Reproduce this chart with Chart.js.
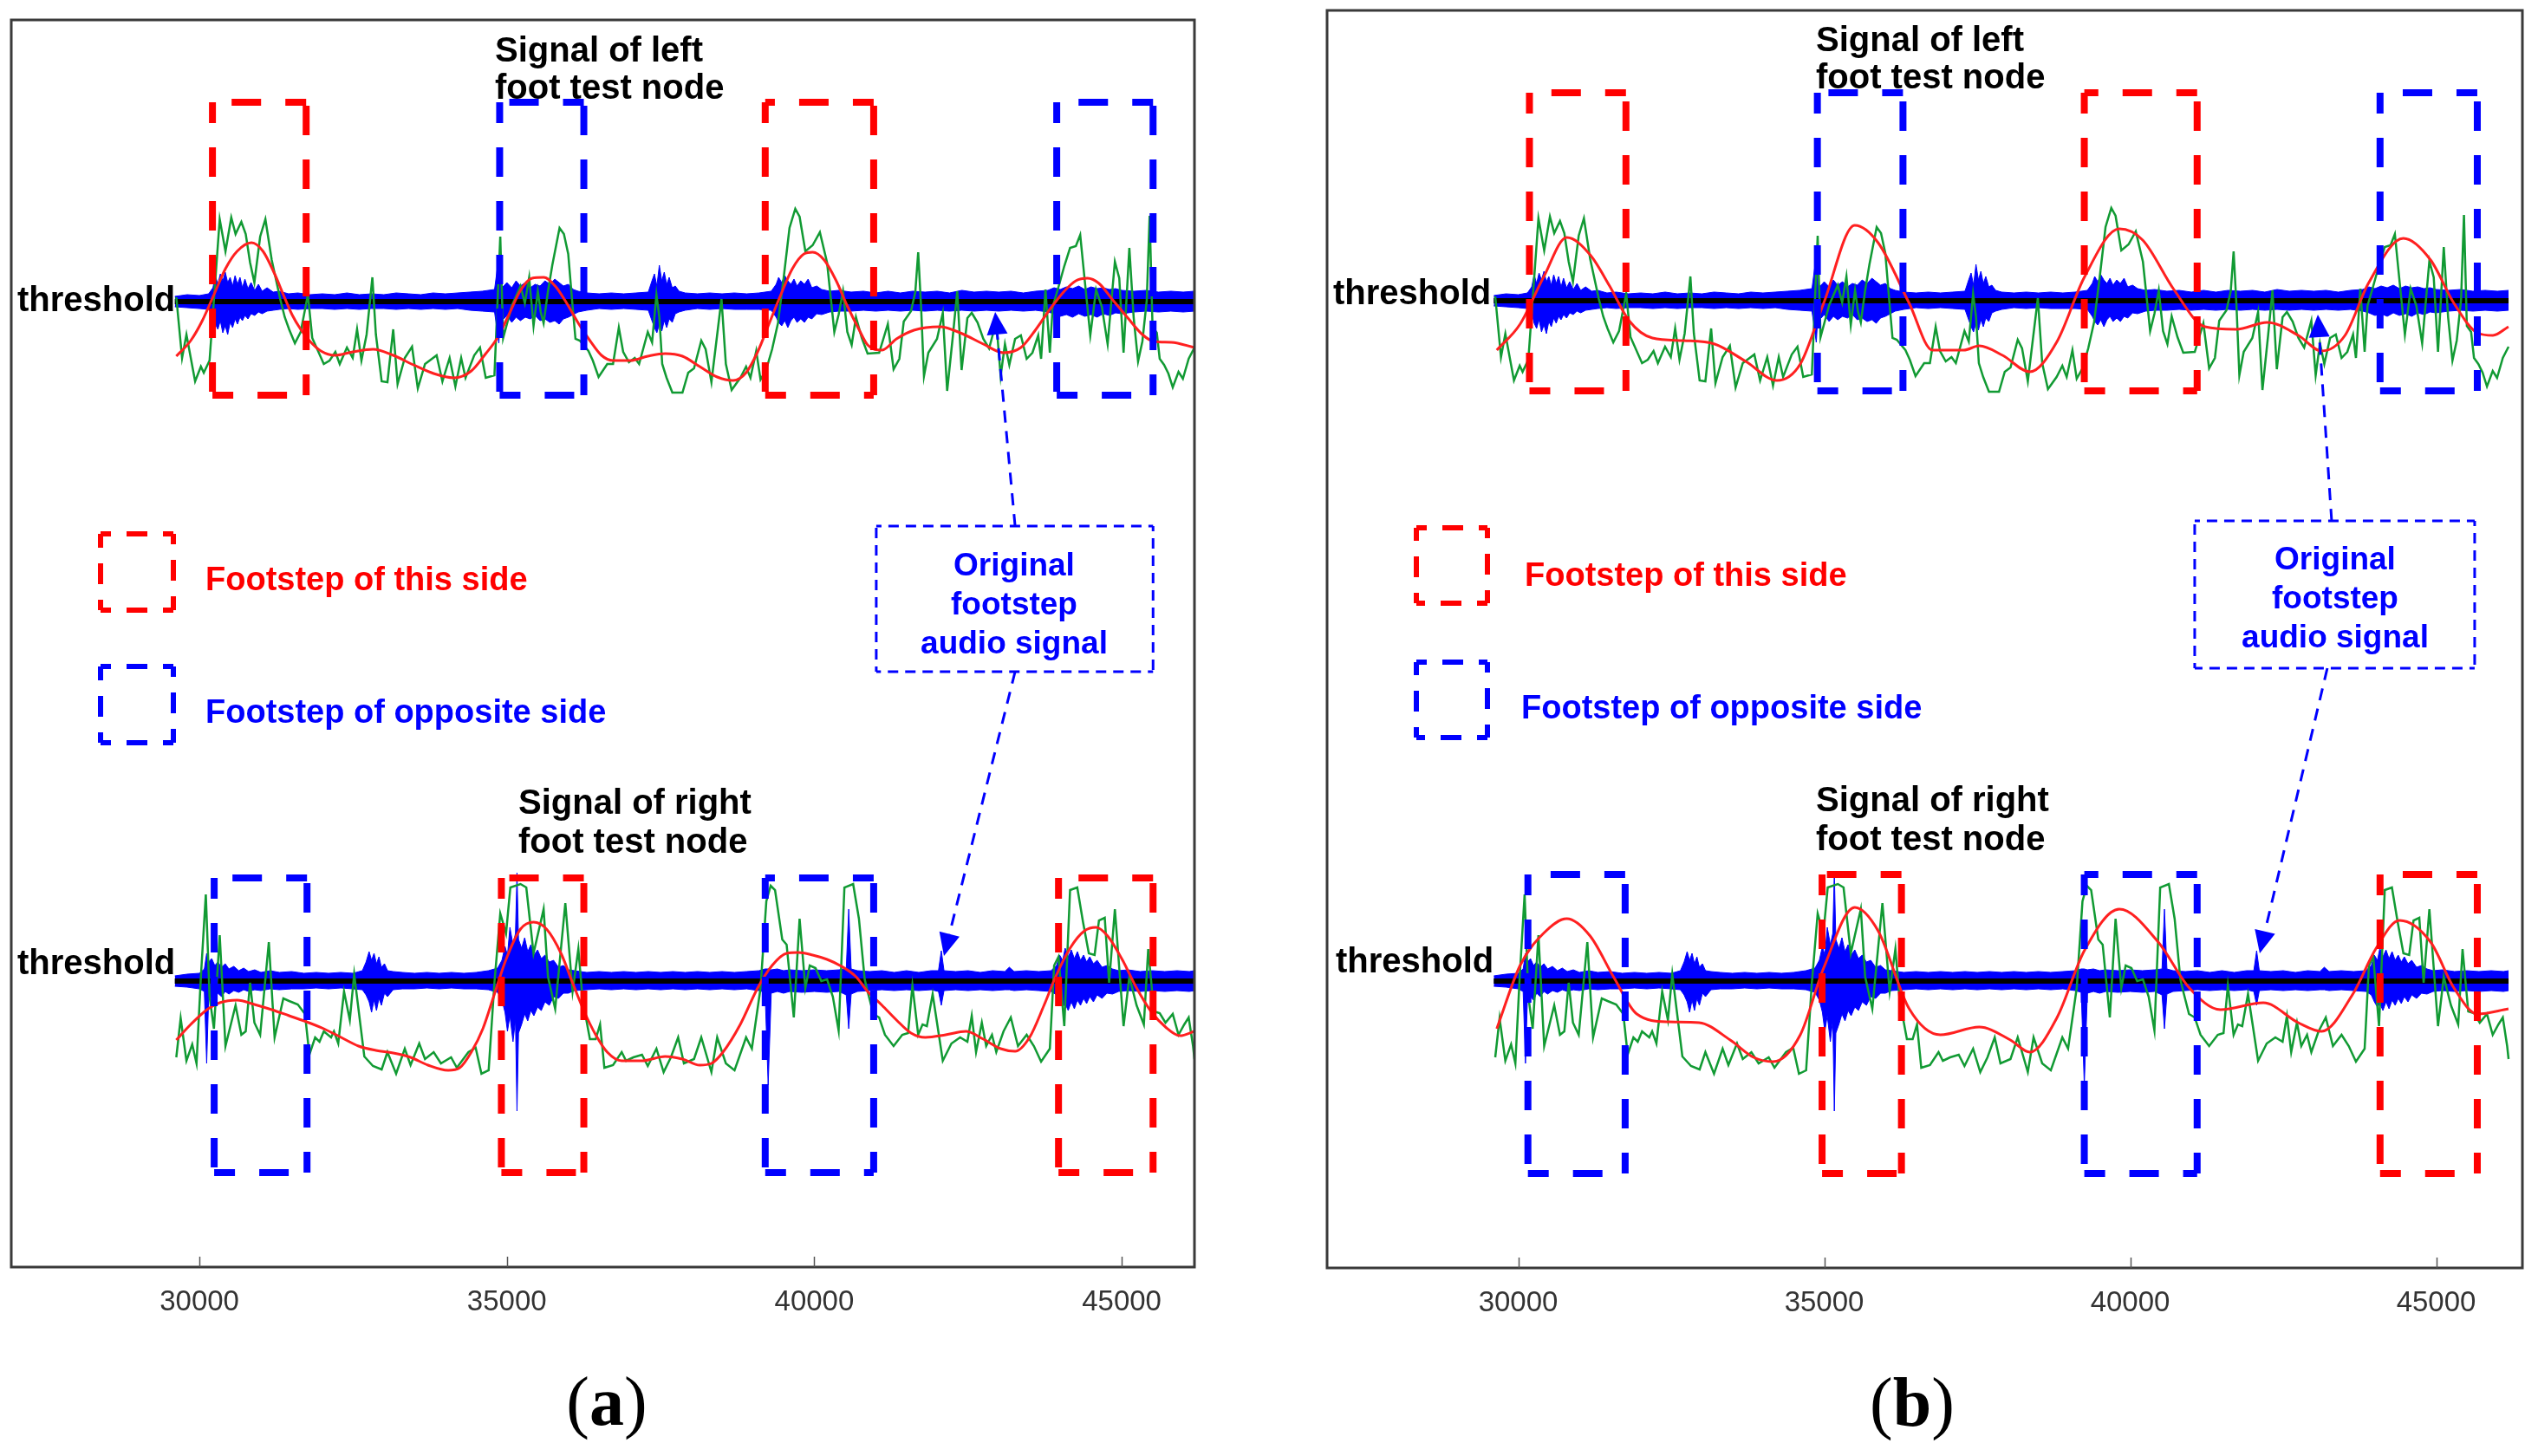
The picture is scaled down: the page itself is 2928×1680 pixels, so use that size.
<!DOCTYPE html>
<html><head><meta charset="utf-8">
<script src="https://cdn.jsdelivr.net/npm/chart.js@4.4.1/dist/chart.umd.min.js"></script>
<style>
html,body{margin:0;padding:0;background:#fff;}
#wrap{position:relative;width:2928px;height:1680px;overflow:hidden;background:#fff;}
canvas{position:absolute;top:0;}
.t{position:absolute;font-family:"Liberation Sans",Arial,sans-serif;font-weight:bold;white-space:nowrap;line-height:1;}
.cap{position:absolute;font-family:"Liberation Serif","Times New Roman",serif;white-space:nowrap;line-height:1;color:#000;}
</style></head><body>
<div id="wrap">
<canvas id="cA" width="1464" height="1680" style="left:0;width:1464px;height:1680px"></canvas>
<canvas id="cB" width="1464" height="1680" style="left:1464px;width:1464px;height:1680px"></canvas>
</div>
<script>
// ---------------- DATA ----------------
const xTicks = [30000, 35000, 40000, 45000];
const thresholdSpan = [29600, 46183];

// green (pressure-like) signal of the left-foot node: [x, amplitude]
const greenTop = [[29624,5],[29718,-65],[29789,-38],[29930,-92],[30024,-75],[30071,-82],[30165,-68],[30330,95],[30424,58],[30518,97],[30588,78],[30682,92],[30753,78],[30824,45],[30894,22],[30988,75],[31073,95],[31176,48],[31317,2],[31388,-18],[31459,-32],[31553,-48],[31647,-35],[31764,8],[31835,-42],[32023,-72],[32117,-68],[32211,-58],[32282,-72],[32399,-53],[32493,-65],[32564,-32],[32635,-68],[32719,-38],[32813,28],[32870,-38],[32964,-92],[33058,-93],[33152,-32],[33223,-95],[33340,-65],[33458,-52],[33552,-100],[33669,-72],[33858,-62],[33952,-92],[34069,-65],[34163,-98],[34257,-65],[34328,-88],[34469,-62],[34563,-53],[34657,-88],[34798,-85],[34893,75],[34940,-42],[35081,-5],
[35222,18],[35293,-2],[35363,28],[35434,-28],[35504,12],[35551,-12],[35598,-25],[35669,12],[35739,42],[35857,85],[35928,78],[35998,55],[36069,-5],[36116,-43],[36186,-45],[36327,-57],[36398,-68],[36492,-87],[36633,-72],[36727,-72],[36821,-30],[36892,-58],[36986,-70],[37080,-65],[37151,-72],[37292,-35],[37362,-47],[37433,8],[37480,-18],[37527,-72],[37598,-88],[37692,-105],[37856,-105],[37950,-82],[38044,-77],[38162,-45],[38233,-55],[38327,-93],[38491,3],[38562,-72],[38656,-102],[38797,-88],[38891,-75],[38962,-88],[39056,-57],[39126,-90],[39220,-78],[39314,-55],[39409,-25],[39503,28],[39597,85],[39691,107],[39761,98],[39855,58],[39973,65],[40091,80],[40208,45],[40326,-35],[40396,-15],[40467,12],[40537,-35],[40608,-50],[40678,-18],[40773,-42],
[40867,-60],[41055,-59],[41196,-26],[41290,-78],[41384,-66],[41455,-23],[41573,-11],[41643,11],[41690,57],[41737,-6],[41784,-86],[41855,-59],[41996,-43],[42090,-13],[42161,-103],[42255,-39],[42325,12],[42396,-79],[42490,-19],[42561,-13],[42655,-24],[42749,-43],[42843,-54],[42960,-23],[43031,-86],[43101,-49],[43172,-73],[43266,-43],[43360,-39],[43454,-66],[43548,-59],[43642,-39],[43689,-66],[43760,14],[43831,-59],[43878,-6],[43972,17],[44066,41],[44160,62],[44254,64],[44325,77],[44395,27],[44489,-39],[44583,14],[44677,-6],[44771,-49],[44889,46],[44960,27],[45030,-59],[45124,62],[45195,-19],[45266,-69],[45336,-46],[45407,1],[45454,99],[45501,-29],[45571,-36],[45618,-66],[45689,-73],[45759,-83],[45830,-99],[45924,-81],[45995,-89],[46089,-66],[46183,-53]];

// green signal of the right-foot node
const greenBot = [[29624,-88],[29695,-43],[29789,-92],[29883,-73],[29953,-95],[30024,5],[30104,100],[30165,-18],[30236,-55],[30330,53],[30424,-75],[30518,-48],[30588,-28],[30682,-62],[30753,-58],[30824,-2],[30894,-48],[30988,-62],[31129,45],[31223,-65],[31365,-20],[31459,-23],[31600,-27],[31717,-38],[31788,-85],[31882,-65],[31953,-70],[32023,-58],[32141,-65],[32188,-58],[32258,-72],[32352,-12],[32446,-45],[32517,8],[32682,-87],[32823,-98],[32964,-102],[33058,-82],[33199,-107],[33340,-78],[33434,-97],[33575,-72],[33669,-90],[33810,-82],[33928,-95],[34093,-88],[34187,-100],[34375,-82],[34493,-77],[34587,-107],[34704,-103],[34798,-2],[34893,78],[34987,55],[35057,108],
[35222,112],[35316,108],[35434,32],[35598,83],[35669,5],[35786,-32],[35951,90],[36069,-12],[36163,37],[36233,-22],[36351,-67],[36445,-67],[36516,-50],[36586,-100],[36727,-97],[36868,-82],[36939,-92],[37057,-88],[37198,-85],[37292,-98],[37433,-78],[37550,-105],[37668,-88],[37786,-65],[37880,-95],[38044,-90],[38162,-65],[38327,-105],[38421,-65],[38562,-95],[38703,-103],[38891,-65],[38985,-78],[39126,-8],[39220,92],[39291,110],[39362,105],[39479,48],[39550,42],[39667,-42],[39761,72],[39855,-8],[39926,18],[40020,15],[40114,0],[40208,2],[40302,-18],[40396,-57],[40490,108],[40632,112],[40726,72],[40820,2],
[40867,-12],[40961,-38],[41055,-42],[41149,-62],[41290,-75],[41431,-62],[41525,-60],[41596,-5],[41690,-62],[41761,-50],[41831,-52],[41925,-15],[41996,-48],[42090,-92],[42231,-72],[42372,-65],[42490,-70],[42561,-40],[42631,-82],[42725,-48],[42796,-75],[42890,-62],[42960,-82],[43078,-58],[43196,-42],[43313,-75],[43454,-62],[43572,-75],[43689,-93],[43831,-78],[43901,18],[43972,28],[44066,-52],[44160,105],[44277,108],[44371,68],[44465,32],[44559,30],[44630,70],[44724,73],[44795,-2],[44889,83],[45030,-52],[45124,5],[45242,-28],[45360,-50],[45431,37],[45524,-35],[45618,-37],[45712,-48],[45830,-38],[45924,-62],[46018,-50],[46089,-42],[46160,-75],[46183,-90]];

// smoothed (red) curves, panel (a)
const redTopA = [[29624,-63],[29859,-45],[30047,-22],[30236,8],[30424,38],[30612,58],[30847,68],[31035,58],[31223,32],[31365,8],[31506,-15],[31647,-32],[31788,-45],[31976,-57],[32211,-62],[32493,-58],[32823,-55],[33152,-62],[33481,-73],[33810,-83],[34140,-88],[34422,-80],[34657,-60],[34845,-42],[35034,-15],[35222,13],[35410,27],[35598,28],[35786,18],[35975,-2],[36163,-25],[36351,-45],[36539,-62],[36727,-68],[37010,-68],[37292,-63],[37574,-60],[37856,-63],[38138,-75],[38421,-87],[38679,-91],[38891,-82],[39079,-58],[39268,-25],[39456,8],[39644,38],[39832,55],[39973,57],[40161,48],[40350,25],[40537,-5],[40726,-32],[40867,-50],[41102,-56],[41337,-43],[41620,-33],[42043,-29],[42372,-36],[42749,-49],[43078,-59],[43360,-53],[43595,-33],[43831,-9],[44066,12],[44254,24],[44442,27],[44630,21],[44865,1],[45101,-19],[45336,-38],[45524,-46],[45806,-47],[46183,-53]];
const redBotA = [[29624,-68],[29859,-50],[30141,-32],[30330,-25],[30612,-22],[30894,-27],[31176,-33],[31459,-40],[31741,-47],[32023,-55],[32305,-65],[32588,-75],[32870,-80],[33152,-83],[33434,-88],[33717,-97],[34046,-103],[34234,-100],[34422,-82],[34610,-55],[34798,-15],[34987,25],[35222,60],[35434,68],[35645,60],[35881,32],[36069,-2],[36257,-35],[36445,-62],[36633,-82],[36868,-92],[37198,-92],[37574,-87],[37856,-90],[38138,-97],[38327,-95],[38515,-82],[38797,-50],[39079,-8],[39314,18],[39550,32],[39738,33],[39973,30],[40208,25],[40443,17],[40679,5],[40867,-12],[41102,-28],[41337,-45],[41573,-60],[41808,-65],[42137,-62],[42466,-58],[42749,-67],[43031,-78],[43266,-81],[43501,-65],[43736,-28],[43925,5],[44160,38],[44395,58],[44583,62],[44771,52],[45007,25],[45242,-8],[45477,-35],[45712,-53],[45947,-63],[46183,-58]];

// smoothed (red) curves, panel (b)
const redTopB = [[29649,-57],[30030,-27],[30412,27],[30793,73],[31175,53],[31493,17],[31811,-23],[32192,-43],[32701,-46],[33210,-50],[33718,-70],[34227,-92],[34609,-73],[34990,-3],[35499,87],[35880,67],[36389,-3],[36770,-57],[37279,-57],[37533,-52],[37915,-63],[38360,-82],[38805,-47],[39250,27],[39822,83],[40204,70],[40713,13],[41221,-30],[41730,-33],[42239,-25],[42747,-40],[43129,-58],[43510,-40],[43892,20],[44464,72],[44909,47],[45291,-3],[45673,-37],[45927,-40],[46181,-30]];
const redBotB = [[29649,-55],[30030,18],[30412,55],[30793,72],[31175,52],[31556,5],[31938,-38],[32447,-47],[32955,-48],[33464,-68],[33846,-88],[34163,-93],[34609,-62],[34990,15],[35499,85],[35880,58],[36389,-32],[36898,-62],[37533,-53],[38042,-68],[38360,-82],[38805,-42],[39250,35],[39822,83],[40458,45],[40967,-8],[41476,-33],[42175,-25],[42747,-48],[43129,-58],[43638,-15],[44020,38],[44401,70],[44909,45],[45291,-8],[45673,-38],[46181,-32]];

// audio signal envelope [x, upper, lower]
const audioTop = [[29600,6,-6],[29800,8,-7],[30000,7,-8],[30150,9,-9],[30220,16,-14],[30260,30,-26],[30300,20,-32],[30340,32,-22],[30380,24,-36],[30420,34,-28],[30460,22,-38],[30500,28,-24],[30540,18,-30],[30580,30,-20],[30620,20,-26],[30660,28,-18],[30700,16,-22],[30740,26,-16],[30790,15,-20],[30840,22,-14],[30900,13,-16],[30960,20,-12],[31020,12,-14],[31100,16,-11],[31200,11,-10],[31300,12,-9],[31450,9,-8],[31600,10,-9],[31800,8,-8],[32000,9,-8],[32200,8,-9],[32400,10,-8],[32600,8,-9],[32800,9,-8],[33000,8,-8],[33200,10,-9],[33400,9,-8],[33600,8,-9],[33800,10,-8],[34000,9,-9],[34200,10,-8],[34400,11,-10],[34600,12,-11],[34800,14,-12],[34870,52,-48],[34900,16,-14],[34950,18,-20],[35000,22,-16],[35080,16,-24],[35150,24,-18],[35220,18,-22],[35300,22,-18],[35380,16,-20],[35460,20,-16],[35540,18,-22],[35620,24,-20],[35700,20,-24],[35780,26,-22],[35850,22,-26],[35920,18,-20],[36000,20,-18],[36080,14,-15],[36160,12,-12],[36300,10,-10],[36500,9,-8],[36700,10,-9],[36900,9,-8],[37100,10,-9],[37300,11,-10],[37360,24,-22],[37400,32,-30],[37440,18,-36],[37480,42,-26],[37520,24,-34],[37560,34,-22],[37600,20,-30],[37640,28,-20],[37690,16,-24],[37740,18,-14],[37800,12,-12],[37900,10,-10],[38100,9,-8],[38300,10,-9],[38500,9,-8],[38700,10,-9],[38900,9,-9],[39100,10,-9],[39300,12,-10],[39380,20,-18],[39420,28,-24],[39470,22,-28],[39520,30,-22],[39570,24,-30],[39620,20,-22],[39670,26,-18],[39720,18,-24],[39780,24,-20],[39840,20,-24],[39900,26,-18],[39960,16,-20],[40040,18,-14],[40120,14,-15],[40250,12,-12],[40400,13,-11],[40600,11,-11],[40800,12,-10],[41000,10,-11],[41200,12,-10],[41400,10,-11],[41600,12,-10],[41800,11,-11],[42000,12,-10],[42200,10,-11],[42400,13,-10],[42600,11,-11],[42800,12,-10],[43000,11,-11],[43200,12,-10],[43400,10,-11],[43600,12,-10],[43800,13,-12],[43900,16,-14],[44000,14,-17],[44100,17,-15],[44200,15,-18],[44300,18,-14],[44400,14,-17],[44500,17,-15],[44600,15,-18],[44700,16,-14],[44800,14,-16],[44900,15,-13],[45000,13,-14],[45200,12,-12],[45400,13,-11],[45600,11,-12],[45800,12,-11],[46000,11,-12],[46183,12,-11]];
const audioBot = [[29600,6,-6],[29800,8,-7],[30000,9,-9],[30080,14,-12],[30118,32,-95],[30150,22,-20],[30200,26,-18],[30250,18,-22],[30300,22,-14],[30360,16,-18],[30420,20,-12],[30480,14,-15],[30560,17,-11],[30640,12,-13],[30720,15,-10],[30800,11,-12],[30900,13,-10],[31000,10,-11],[31150,12,-9],[31300,10,-10],[31500,11,-9],[31700,9,-9],[31900,10,-8],[32100,9,-9],[32300,10,-8],[32500,9,-9],[32650,12,-10],[32710,22,-16],[32760,34,-24],[32800,24,-36],[32840,32,-22],[32880,20,-34],[32920,28,-20],[32960,16,-28],[33010,20,-14],[33060,12,-18],[33150,11,-10],[33300,10,-9],[33500,9,-9],[33700,10,-8],[33900,9,-9],[34100,10,-8],[34300,9,-9],[34500,10,-9],[34700,12,-10],[34850,15,-13],[34920,24,-22],[34970,40,-36],[35010,30,-58],[35050,62,-40],[35100,42,-70],[35140,55,-45],[35165,125,-150],[35190,48,-60],[35240,38,-50],[35290,50,-38],[35340,34,-46],[35390,42,-34],[35440,30,-40],[35500,36,-30],[35560,26,-34],[35620,30,-24],[35690,22,-28],[35760,24,-18],[35840,16,-20],[35920,18,-14],[36000,13,-14],[36100,12,-11],[36300,10,-10],[36500,11,-9],[36700,10,-10],[36900,11,-9],[37100,10,-10],[37300,11,-9],[37500,10,-10],[37700,11,-9],[37900,10,-10],[38100,11,-9],[38300,10,-10],[38500,11,-9],[38700,10,-10],[38900,11,-9],[39100,12,-11],[39200,14,-13],[39250,14,-120],[39300,13,-14],[39400,14,-12],[39500,12,-14],[39600,13,-12],[39800,12,-13],[40000,13,-12],[40200,12,-13],[40400,13,-12],[40520,14,-16],[40560,83,-55],[40600,14,-15],[40700,12,-12],[40900,11,-11],[41100,12,-10],[41300,10,-11],[41500,12,-10],[41700,10,-11],[41900,12,-10],[42020,12,-12],[42066,35,-28],[42110,12,-11],[42300,11,-10],[42500,12,-11],[42700,10,-10],[42900,12,-11],[43100,11,-10],[43172,16,-10],[43250,11,-11],[43450,12,-10],[43650,11,-11],[43850,12,-12],[43940,18,-16],[43990,30,-24],[44040,24,-30],[44080,38,-26],[44130,28,-34],[44180,36,-24],[44230,26,-32],[44280,34,-22],[44330,24,-28],[44380,30,-20],[44430,22,-26],[44480,28,-18],[44540,20,-24],[44600,24,-16],[44680,16,-20],[44760,18,-14],[44850,14,-15],[44950,12,-12],[45100,13,-11],[45300,11,-12],[45500,12,-11],[45700,11,-12],[45900,12,-11],[46100,11,-12],[46183,12,-11]];

// footstep windows [start, end]
const boxesTopA = [[30212,31736],[34883,36252],[39202,40966],[43943,45510]];
const boxesBotA = [[30240,31750],[34911,36252],[39202,40966],[43972,45510]];
const boxesTopB = [[30183,31760],[34888,36287],[39250,41094],[44083,45672]];
const boxesBotB = [[30158,31747],[34965,36262],[39250,41094],[44083,45672]];
const boxSideTop = ['this','opposite','this','opposite'];
const boxSideBot = ['opposite','this','opposite','this'];

// ---------------- LAYOUT / STYLE ----------------
const COL = {this:'#ff0000', opposite:'#0000ff', green:'#119a33', curve:'#ff2020', audio:'#0000ff'};
const panels = [
  { id:'cA', xMin:26940, xMax:46183, yMax:1439, topBase:1114, botBase:330,
    pad:{left:13,right:86,top:23,bottom:158},
    boxesTop:boxesTopA, boxesBot:boxesBotA, topSpan:[-108,230], botSpan:[-221,119],
    redTop:redTopA, redBot:redBotA,
    annot:[41008,687,45510,855], arrows:[[43266,855,42942,1102],[43266,687,42109,359]],
    legend:[{l:103,t:593,w:84,h:88,c:COL.this},{l:103,t:746,w:84,h:88,c:COL.opposite}] },
  { id:'cB', xMin:26876, xMax:46409, yMax:1451, topBase:1116, botBase:331,
    pad:{left:67,right:18,top:12,bottom:157},
    boxesTop:boxesTopB, boxesBot:boxesBotB, topSpan:[-104,240], botSpan:[-222,123],
    redTop:redTopB, redBot:redBotB,
    annot:[41054,692,45629,862], arrows:[[43292,862,43066,1100],[43221,692,42117,363]],
    legend:[{l:103,t:597,w:82,h:87,c:COL.this},{l:103,t:752,w:82,h:87,c:COL.opposite}] }
];

const texts = [
  ['threshold',20,345,'l',40,'#000'],['threshold',20,1110,'l',40,'#000'],
  ['Signal of left',571,57,'l',40,'#000'],['foot test node',571,100,'l',40,'#000'],
  ['Signal of right',598,925,'l',40,'#000'],['foot test node',598,970,'l',40,'#000'],
  ['Footstep of this side',237,668,'l',38,COL.this],['Footstep of opposite side',237,821,'l',38,COL.opposite],
  ['Original',1170,651,'c',37,COL.opposite],['footstep',1170,696,'c',37,COL.opposite],['audio signal',1170,741,'c',37,COL.opposite],
  ['threshold',1538,337,'l',40,'#000'],['threshold',1541,1108,'l',40,'#000'],
  ['Signal of left',2095,45,'l',40,'#000'],['foot test node',2095,88,'l',40,'#000'],
  ['Signal of right',2095,922,'l',40,'#000'],['foot test node',2095,967,'l',40,'#000'],
  ['Footstep of this side',1759,663,'l',38,COL.this],['Footstep of opposite side',1755,816,'l',38,COL.opposite],
  ['Original',2694,644,'c',37,COL.opposite],['footstep',2694,689,'c',37,COL.opposite],['audio signal',2694,734,'c',37,COL.opposite]
];
const captions = [['a',700,1617],['b',2206,1618]];

// ---------------- BUILD ----------------
const wrap = document.getElementById('wrap');
texts.forEach(([s,x,y,a,fs,c]) => {
  const d = document.createElement('div');
  d.className = 't'; d.textContent = s;
  d.style.left = x + 'px'; d.style.top = y + 'px'; d.style.fontSize = fs + 'px'; d.style.color = c;
  d.style.transform = a === 'c' ? 'translate(-50%,-50%)' : 'translateY(-50%)';
  wrap.appendChild(d);
});
captions.forEach(([s,x,y]) => {
  const d = document.createElement('div');
  d.className = 'cap';
  d.innerHTML = '(<b>' + s + '</b>)';
  d.style.left = x + 'px'; d.style.top = y + 'px'; d.style.fontSize = '80px';
  d.style.transform = 'translate(-50%,-50%)';
  wrap.appendChild(d);
});

function edgeDash(ctx, x0, y0, x1, y1, d, g) {
  ctx.setLineDash([d, g]); ctx.lineDashOffset = d / 2;
  ctx.beginPath(); ctx.moveTo(x0, y0); ctx.lineTo(x1, y1); ctx.stroke();
}

const decoPlugin = {
  id: 'deco',
  afterDatasetsDraw(chart, args, o) {
    const {ctx, chartArea: a, scales: {x, y}} = chart;
    ctx.save();
    // legend symbol boxes
    ctx.lineWidth = 6; ctx.lineCap = 'butt';
    o.legend.forEach(b => {
      const L = a.left + b.l, T = a.top + b.t, R = L + b.w, B = T + b.h;
      ctx.strokeStyle = b.c;
      edgeDash(ctx, L, T, R, T, 24, 18); edgeDash(ctx, R, T, R, B, 24, 18);
      edgeDash(ctx, R, B, L, B, 24, 18); edgeDash(ctx, L, B, L, T, 24, 18);
    });
    // annotation box
    ctx.strokeStyle = COL.opposite; ctx.lineWidth = 3;
    const [ax0, ay0, ax1, ay1] = o.annot;
    const L = x.getPixelForValue(ax0), R = x.getPixelForValue(ax1);
    const T = y.getPixelForValue(ay1), B = y.getPixelForValue(ay0);
    edgeDash(ctx, L, T, R, T, 12, 8); edgeDash(ctx, R, T, R, B, 12, 8);
    edgeDash(ctx, R, B, L, B, 12, 8); edgeDash(ctx, L, B, L, T, 12, 8);
    // arrows
    o.arrows.forEach(([sx, sy, tx, ty]) => {
      const px0 = x.getPixelForValue(sx), py0 = y.getPixelForValue(sy);
      const px1 = x.getPixelForValue(tx), py1 = y.getPixelForValue(ty);
      const len = Math.hypot(px1 - px0, py1 - py0), ux = (px1 - px0) / len, uy = (py1 - py0) / len;
      const hl = 26, hw = 12, bx = px1 - ux * hl, by = py1 - uy * hl;
      ctx.strokeStyle = COL.opposite; ctx.lineWidth = 3; ctx.setLineDash([14, 10]); ctx.lineDashOffset = 0;
      ctx.beginPath(); ctx.moveTo(px0, py0); ctx.lineTo(bx, by); ctx.stroke();
      ctx.setLineDash([]); ctx.fillStyle = COL.opposite;
      ctx.beginPath(); ctx.moveTo(px1, py1); ctx.lineTo(bx - uy * hw, by + ux * hw); ctx.lineTo(bx + uy * hw, by - ux * hw); ctx.closePath(); ctx.fill();
    });
    // frame and inward ticks
    ctx.setLineDash([]);
    ctx.strokeStyle = '#3a3a3a'; ctx.lineWidth = 3;
    ctx.strokeRect(a.left, a.top, a.right - a.left, a.bottom - a.top);
    ctx.lineWidth = 1.5; ctx.strokeStyle = '#555';
    x.ticks.forEach(t => {
      const px = Math.round(x.getPixelForValue(t.value)) + 0.5;
      ctx.beginPath(); ctx.moveTo(px, a.bottom); ctx.lineTo(px, a.bottom - 12); ctx.stroke();
    });
    ctx.restore();
  }
};

function buildDatasets(P) {
  const ds = [];
  const line = (data, color, width, order, extra) => Object.assign({
    data, borderColor: color, borderWidth: width, pointRadius: 0, fill: false, tension: 0, order
  }, extra || {});
  // boxes (each edge a separate segment)
  const addBoxes = (boxes, sides, base, span) => boxes.forEach((b, i) => {
    const [x0, x1] = b, lo = base + span[0], hi = base + span[1];
    const pts = [
      {x:x0,y:hi},{x:x0,y:lo},{x:x0,y:null},
      {x:x0,y:lo},{x:x1,y:lo},{x:x1,y:null},
      {x:x1,y:lo},{x:x1,y:hi},{x:x1,y:null},
      {x:x1,y:hi},{x:x0,y:hi}];
    ds.push(line(pts, COL[sides[i]], 8, 0, {borderDash:[34,28], borderDashOffset:10, spanGaps:false, borderCapStyle:'butt'}));
  });
  addBoxes(P.boxesTop, boxSideTop, P.topBase, P.topSpan);
  addBoxes(P.boxesBot, boxSideBot, P.botBase, P.botSpan);
  // smoothed curves
  [[P.redTop, P.topBase], [P.redBot, P.botBase]].forEach(([arr, base]) =>
    ds.push(line(arr.map(([x, v]) => ({x, y: base + v})), COL.curve, 3, 1, {cubicInterpolationMode:'monotone'})));
  // green signals
  [[greenTop, P.topBase], [greenBot, P.botBase]].forEach(([arr, base]) =>
    ds.push(line(arr.map(([x, v]) => ({x, y: base + v})), COL.green, 2.5, 2)));
  // thresholds
  [P.topBase, P.botBase].forEach(base =>
    ds.push(line(thresholdSpan.map(x => ({x, y: base})), '#000', 6, 3)));
  // audio envelopes (filled band)
  [[audioTop, P.topBase], [audioBot, P.botBase]].forEach(([arr, base]) => {
    const iu = ds.length;
    ds.push(line(arr.map(([x, u]) => ({x, y: base + u})), COL.audio, 1, 4));
    ds.push(line(arr.map(([x, u, l]) => ({x, y: base + l})), COL.audio, 1, 4, {fill: iu, backgroundColor: COL.audio}));
  });
  return ds;
}

panels.forEach(P => {
  new Chart(document.getElementById(P.id), {
    type: 'line',
    data: { datasets: buildDatasets(P) },
    options: {
      responsive: false, animation: false, devicePixelRatio: 1, events: [],
      layout: { padding: P.pad },
      plugins: { legend: {display:false}, tooltip: {enabled:false}, title:{display:false},
        deco: { legend: P.legend, annot: P.annot, arrows: P.arrows } },
      scales: {
        x: { type:'linear', min:P.xMin, max:P.xMax,
          afterBuildTicks: s => { s.ticks = xTicks.map(v => ({value:v})); },
          afterFit: s => { s.height = 60; },
          grid: {display:false, drawTicks:false}, border: {display:false},
          ticks: { padding:21, color:'#333', font:{family:'"Liberation Sans", Arial, sans-serif', size:33}, callback: v => String(v), maxRotation:0, autoSkip:false } },
        y: { type:'linear', min:0, max:P.yMax, display:false }
      }
    },
    plugins: [decoPlugin]
  });
});
</script>
</body></html>
